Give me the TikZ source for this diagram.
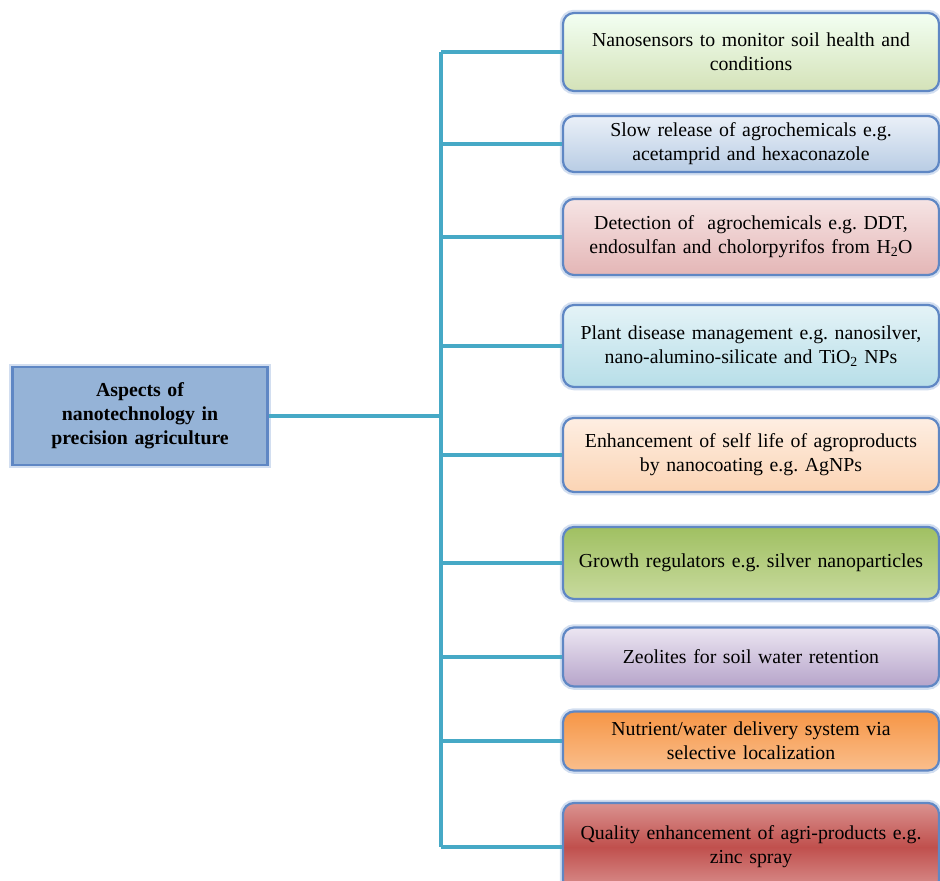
\documentclass[tikz,border=0pt]{standalone}
\usepackage{fontspec}
\setmainfont{Liberation Serif}
\definecolor{conn}{HTML}{46A9C6}
\definecolor{boxedge}{HTML}{5F87C4}
\definecolor{glow}{HTML}{9DB8DE}
\definecolor{mainfill}{HTML}{95B3D7}
\begin{document}
\frenchspacing
\begin{tikzpicture}[x=1pt,y=-1pt,
  item/.style={rounded corners=11pt, draw=boxedge, line width=2.2pt,
    minimum width=376pt, text width=368pt, align=center, inner sep=0pt,
    font=\fontsize{19.8}{24}\selectfont,
    preaction={draw=glow, line width=6.5pt, opacity=0.45}},
  mainbox/.style={draw=boxedge, line width=2.5pt, fill=mainfill,
    minimum width=255pt, minimum height=98pt, text width=240pt, align=center,
    inner sep=0pt, font=\bfseries\fontsize{19.8}{24}\selectfont,
    preaction={draw=glow, line width=6.5pt, opacity=0.45}},
  link/.style={draw=conn, line width=4.5pt},
]
\useasboundingbox (0,0) rectangle (940,881);
\fill[white] (0,0) rectangle (940,881);

\coordinate (trunk) at (441,0);

\node[mainbox] (main) at (140,416) {Aspects of\\ nanotechnology in\\ precision agriculture};

\node[item, minimum height=78pt, top color=green!5!white, bottom color={rgb,255:red,212;green,226;blue,184}] (b1) at (751,52)
  {Nanosensors to monitor soil health and\\ conditions};
\node[item, minimum height=56pt, top color={rgb,255:red,234;green,240;blue,248}, bottom color={rgb,255:red,184;green,204;blue,228}] (b2) at (751,144)
  {Slow release of agrochemicals e.g.\\ acetamprid and hexaconazole};
\node[item, minimum height=76pt, top color={rgb,255:red,246;green,228;blue,228}, bottom color={rgb,255:red,228;green,182;blue,182}] (b3) at (751,237)
  {Detection of\ \ agrochemicals e.g. DDT,\\ endosulfan and cholorpyrifos from H\textsubscript{2}O};
\node[item, minimum height=82pt, top color={rgb,255:red,228;green,243;blue,247}, bottom color={rgb,255:red,183;green,222;blue,232}] (b4) at (751,346)
  {Plant disease management e.g. nanosilver,\\ nano-alumino-silicate and TiO\textsubscript{2} NPs};
\node[item, minimum height=74pt, top color={rgb,255:red,254;green,238;blue,226}, bottom color={rgb,255:red,251;green,212;blue,180}] (b5) at (751,455)
  {Enhancement of self life of agroproducts\\ by nanocoating e.g. AgNPs};
\node[item, minimum height=72pt, top color={rgb,255:red,160;green,192;blue,98}, bottom color={rgb,255:red,200;green,218;blue,158}] (b6) at (751,563)
  {Growth regulators e.g. silver nanoparticles};
\node[item, minimum height=59pt, top color={rgb,255:red,236;green,230;blue,242}, bottom color={rgb,255:red,182;green,164;blue,202}] (b7) at (751,657)
  {Zeolites for soil water retention};
\node[item, minimum height=59pt, top color={rgb,255:red,246;green,150;blue,70}, bottom color={rgb,255:red,250;green,190;blue,140}] (b8) at (751,741)
  {Nutrient/water delivery system via\\ selective localization};
\node[item, minimum height=88pt, top color={rgb,255:red,218;green,146;blue,144}, bottom color={rgb,255:red,218;green,146;blue,144}, middle color={rgb,255:red,192;green,80;blue,77}] (b9) at (751,847)
  {Quality enhancement of agri-products e.g.\\ zinc spray};

\draw[link] (b1.west -| trunk) -- (b9.west -| trunk);
\draw[link] (main.east) -- (main.east -| trunk);
\foreach \b in {b1,b2,b3,b4,b5,b6,b7,b8,b9}
  \draw[link] (\b.west -| trunk) -- (\b.west);
\end{tikzpicture}
\end{document}
